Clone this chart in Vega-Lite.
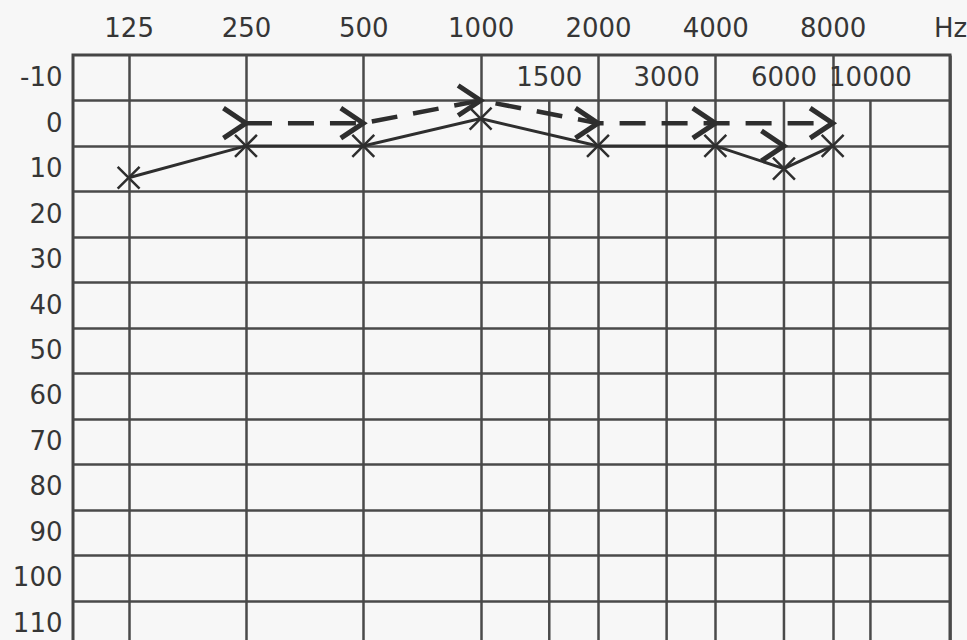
{
  "$schema": "https://vega.github.io/schema/vega-lite/v6.json",
  "width": 877,
  "height": 591,
  "autosize": {"type": "none"},
  "padding": {"left": 73, "top": 55, "right": 17, "bottom": 0},
  "background": "#f7f7f7",
  "config": {
    "view": {"stroke": "#454545", "strokeWidth": 3},
    "font": "DejaVu Sans",
    "axis": {"labelFont": "DejaVu Sans", "labelFontSize": 26, "labelColor": "#363636", "gridColor": "#4a4a4a", "gridWidth": 2.5, "gridOpacity": 1}
  },
  "datasets": {
    "thresholds": [
      {"freq": 125, "db": 12, "conduction": "air", "linked": true},
      {"freq": 250, "db": 5, "conduction": "air", "linked": true},
      {"freq": 500, "db": 5, "conduction": "air", "linked": true},
      {"freq": 1000, "db": -1, "conduction": "air", "linked": true},
      {"freq": 2000, "db": 5, "conduction": "air", "linked": true},
      {"freq": 4000, "db": 5, "conduction": "air", "linked": true},
      {"freq": 6000, "db": 10, "conduction": "air", "linked": true},
      {"freq": 8000, "db": 5, "conduction": "air", "linked": true},
      {"freq": 250, "db": 0, "conduction": "bone", "linked": true},
      {"freq": 500, "db": 0, "conduction": "bone", "linked": true},
      {"freq": 1000, "db": -5, "conduction": "bone", "linked": true},
      {"freq": 2000, "db": 0, "conduction": "bone", "linked": true},
      {"freq": 4000, "db": 0, "conduction": "bone", "linked": true},
      {"freq": 6000, "db": 5, "conduction": "bone", "linked": false},
      {"freq": 8000, "db": 0, "conduction": "bone", "linked": true}
    ],
    "halfOctaves": [
      {"freq": 1500, "label": "1500"},
      {"freq": 3000, "label": "3000"},
      {"freq": 6000, "label": "6000"},
      {"freq": 10000, "label": "10000"}
    ]
  },
  "layer": [
    {
      "data": {"name": "halfOctaves"},
      "mark": {"type": "rule", "color": "#4a4a4a", "strokeWidth": 2.5},
      "encoding": {
        "x": {
          "field": "freq", "type": "quantitative",
          "scale": {"type": "log", "domain": [90, 16000], "nice": false, "zero": false},
          "axis": {
            "orient": "top", "values": [125, 250, 500, 1000, 2000, 4000, 8000, 16000],
            "labelExpr": "datum.value > 12000 ? 'Hz' : toString(datum.value)",
            "grid": true, "ticks": false, "domain": false, "title": null,
            "labelPadding": 14, "labelFlush": false, "labelOverlap": false, "labelBound": false
          }
        },
        "y": {
          "datum": -5, "type": "quantitative",
          "scale": {"domain": [-15, 115], "reverse": true, "nice": false, "zero": false},
          "axis": {
            "orient": "left", "values": [-10, 0, 10, 20, 30, 40, 50, 60, 70, 80, 90, 100, 110],
            "labelExpr": "toString(datum.value)",
            "grid": false, "ticks": false, "domain": false, "title": null,
            "labelPadding": 11, "labelOverlap": false, "labelBound": false
          }
        },
        "y2": {"datum": 115}
      }
    },
    {
      "data": {"name": "halfOctaves"},
      "mark": {"type": "text", "font": "DejaVu Sans", "fontSize": 26, "color": "#363636", "align": "center", "baseline": "middle"},
      "encoding": {
        "x": {"field": "freq", "type": "quantitative", "scale": {"type": "log", "domain": [90, 16000], "nice": false, "zero": false}},
        "y": {
          "datum": -10, "type": "quantitative",
          "scale": {"domain": [-15, 115], "reverse": true, "nice": false, "zero": false},
          "axis": {
            "orient": "right", "values": [-5, 5, 15, 25, 35, 45, 55, 65, 75, 85, 95, 105],
            "grid": true, "labels": false, "ticks": false, "domain": false, "title": null
          }
        },
        "text": {"field": "label"}
      }
    },
    {
      "data": {"name": "thresholds"},
      "transform": [{"filter": "datum.conduction === 'air'"}],
      "mark": {"type": "line", "color": "#2e2e2e", "strokeWidth": 3},
      "encoding": {
        "x": {"field": "freq", "type": "quantitative", "scale": {"type": "log", "domain": [90, 16000], "nice": false, "zero": false}},
        "y": {"field": "db", "type": "quantitative", "scale": {"domain": [-15, 115], "reverse": true, "nice": false, "zero": false}, "axis": null}
      }
    },
    {
      "data": {"name": "thresholds"},
      "transform": [{"filter": "datum.conduction === 'bone' && datum.linked"}],
      "mark": {"type": "line", "color": "#2e2e2e", "strokeWidth": 4.5, "strokeDash": [26, 16]},
      "encoding": {
        "x": {"field": "freq", "type": "quantitative", "scale": {"type": "log", "domain": [90, 16000], "nice": false, "zero": false}},
        "y": {"field": "db", "type": "quantitative", "scale": {"domain": [-15, 115], "reverse": true, "nice": false, "zero": false}, "axis": null}
      }
    },
    {
      "data": {"name": "thresholds"},
      "transform": [{"filter": "datum.conduction === 'air'"}],
      "mark": {"type": "point", "shape": "M-1,-1L1,1M-1,1L1,-1", "size": 480, "filled": false, "stroke": "#2e2e2e", "strokeWidth": 2.5, "opacity": 1},
      "encoding": {
        "x": {"field": "freq", "type": "quantitative", "scale": {"type": "log", "domain": [90, 16000], "nice": false, "zero": false}},
        "y": {"field": "db", "type": "quantitative", "scale": {"domain": [-15, 115], "reverse": true, "nice": false, "zero": false}, "axis": null}
      }
    },
    {
      "data": {"name": "thresholds"},
      "transform": [{"filter": "datum.conduction === 'bone'"}],
      "mark": {"type": "point", "shape": "M-1.5,-1L0,0L-1.5,1", "size": 900, "filled": false, "stroke": "#2e2e2e", "strokeWidth": 5, "strokeJoin": "miter", "opacity": 1},
      "encoding": {
        "x": {"field": "freq", "type": "quantitative", "scale": {"type": "log", "domain": [90, 16000], "nice": false, "zero": false}},
        "y": {"field": "db", "type": "quantitative", "scale": {"domain": [-15, 115], "reverse": true, "nice": false, "zero": false}, "axis": null}
      }
    }
  ],
  "resolve": {"axis": {"y": "independent"}}
}
